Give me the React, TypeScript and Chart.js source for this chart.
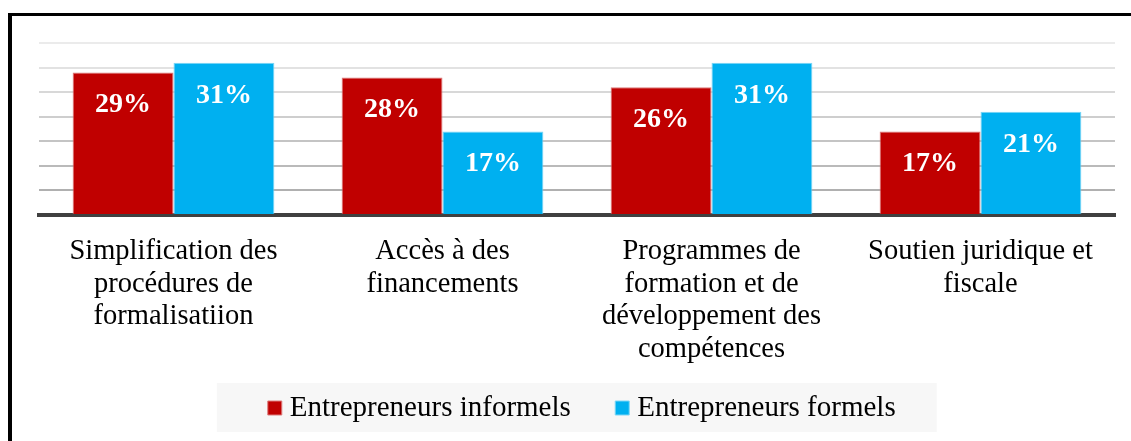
import React, { useEffect, useRef } from 'react';
import { Chart, registerables } from 'chart.js';

Chart.register(...registerables);

// ---- data ----
const categories: string[][] = [
  ['Simplification des', 'procédures de', 'formalisatiion'],
  ['Accès à des', 'financements'],
  ['Programmes de', 'formation et de', 'développement des', 'compétences'],
  ['Soutien juridique et', 'fiscale'],
];
const seriesNames = ['Entrepreneurs informels', 'Entrepreneurs formels'];
const informels = [29, 28, 26, 17];
const formels = [31, 17, 31, 21];
const yMin = 0;
const yMax = 35;
const yStep = 5;

// ---- styles ----
const SERIF = '"Liberation Serif", "Times New Roman", serif';
const RED = '#C00000';
const RED_BORDER = '#DC7A7A';
const BLUE = '#00B0F0';
const BLUE_BORDER = '#7CD6F6';
const gridShade: Record<number, string> = {
  5: '#b0b0b0',
  10: '#bababa',
  15: '#c4c4c4',
  20: '#cecece',
  25: '#d8d8d8',
  30: '#e2e2e2',
  35: '#ebebeb',
};
const LEGEND_ITEM_GAP = '      ';

const legendBackground = {
  id: 'legendBackground',
  beforeDraw(chart: any) {
    const lg = chart.legend;
    const hb = lg && lg.legendHitBoxes;
    if (!hb || hb.length < 2) return;
    const first = hb[0];
    const last = hb[hb.length - 1];
    const midY = first.top + first.height / 2;
    const left = first.left - 6.5 - 51;
    const right = last.left + last.width + 41;
    const ctx = chart.ctx;
    ctx.save();
    ctx.fillStyle = '#F7F7F7';
    ctx.fillRect(left, midY - 25, right - left, 49);
    ctx.restore();
  },
};

const barValueLabels = {
  id: 'barValueLabels',
  afterDatasetsDraw(chart: any) {
    const ctx = chart.ctx;
    ctx.save();
    ctx.fillStyle = '#FFFFFF';
    ctx.font = `bold 28px ${SERIF}`;
    ctx.textAlign = 'center';
    ctx.textBaseline = 'alphabetic';
    chart.data.datasets.forEach((ds: any, di: number) => {
      const meta = chart.getDatasetMeta(di);
      meta.data.forEach((el: any, i: number) => {
        const { x, y } = el.getProps(['x', 'y'], true);
        ctx.fillText(`${ds.data[i]}%`, x, y + 40);
      });
    });
    ctx.restore();
  },
};

export default function App() {
  const canvasRef = useRef<HTMLCanvasElement | null>(null);

  useEffect(() => {
    if (!canvasRef.current) return;
    const chart = new Chart(canvasRef.current, {
      type: 'bar',
      data: {
        labels: categories,
        datasets: [
          {
            label: seriesNames[0],
            data: informels,
            backgroundColor: RED,
            borderColor: RED_BORDER,
            borderWidth: 1,
            categoryPercentage: 0.75,
            barPercentage: 1,
          },
          {
            label: seriesNames[1],
            data: formels,
            backgroundColor: BLUE,
            borderColor: BLUE_BORDER,
            borderWidth: 1,
            categoryPercentage: 0.75,
            barPercentage: 1,
          },
        ],
      },
      options: {
        responsive: false,
        animation: false,
        layout: { padding: { left: 27, right: 0, top: 27, bottom: 8.5 } },
        plugins: {
          tooltip: { enabled: false },
          title: { display: false },
          legend: {
            position: 'bottom',
            labels: {
              color: '#000',
              font: { family: SERIF, size: 29 },
              usePointStyle: true,
              pointStyle: 'rect',
              boxWidth: 1,
              boxHeight: 14,
              padding: 7.4,
              generateLabels: (chart: any) => {
                const items = Chart.defaults.plugins.legend.labels.generateLabels(chart);
                items.forEach((it: any, i: number) => {
                  if (i < items.length - 1) it.text = it.text + LEGEND_ITEM_GAP;
                });
                return items;
              },
            },
          },
        },
        scales: {
          x: {
            z: 1,
            grid: { display: false, drawTicks: false },
            border: { display: true, color: '#404040', width: 4 },
            ticks: {
              color: '#000',
              font: { family: SERIF, size: 28.5, lineHeight: 1.15 },
              padding: 20,
              maxRotation: 0,
              autoSkip: false,
            },
          },
          y: {
            min: yMin,
            max: yMax,
            ticks: { display: false, stepSize: yStep },
            grid: {
              drawTicks: false,
              lineWidth: 2,
              color: (ctx: any) => gridShade[ctx.tick?.value] ?? 'rgba(0,0,0,0)',
            },
            border: { display: false },
            afterFit: (s: any) => {
              s.width = 0;
            },
          },
          yR: {
            position: 'right',
            grid: { display: false, drawTicks: false },
            ticks: { display: false },
            border: { display: false },
            afterFit: (s: any) => {
              s.width = 16;
            },
          },
        },
      } as any,
      plugins: [legendBackground, barValueLabels],
    });
    return () => chart.destroy();
  }, []);

  return (
    <div
      style={{
        position: 'fixed',
        left: 8,
        top: 13,
        width: 1123,
        height: 428,
        boxSizing: 'border-box',
        borderTop: '3px solid #000',
        borderLeft: '4px solid #000',
        overflow: 'hidden',
        background: '#fff',
      }}
    >
      <canvas ref={canvasRef} width={1119} height={425} style={{ display: 'block' }} />
    </div>
  );
}
